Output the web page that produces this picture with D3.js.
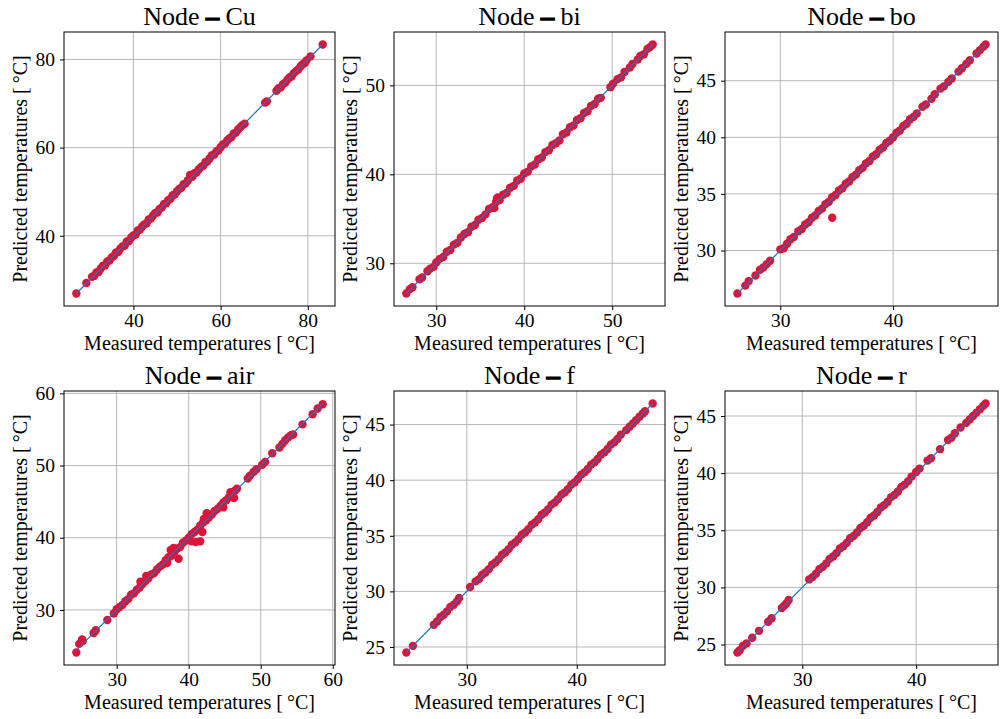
<!DOCTYPE html>
<html>
<head>
<meta charset="utf-8">
<script src="https://cdn.jsdelivr.net/npm/d3@7"></script>
<style>
    body { margin: 0; background: #fff; }
    svg { font-family: "Liberation Serif", "Times New Roman", serif; }
    .grid line { stroke: #b0b0b0; stroke-width: 0.9; }
    .tick text { font-size: 19.5px; fill: #000; font-family: "Liberation Serif", serif; }
    .frame { fill: none; stroke: #000; stroke-width: 1; }
    .dot { fill: #dc143c; }
    .fit { stroke: #1f77b4; stroke-width: 1.2; fill: none; }
</style>
</head>
<body>
<svg id="fig" width="1001" height="719"></svg>
<script>
// measured / predicted pairs
const cuPoints = [[26.9,26.9],[29.2,29.3],[30.5,30.7],[31.0,30.9],[31.5,31.7],[32.0,31.8],[32.5,32.6],[33.0,33.2],[33.5,33.3],[34.0,34.2],[34.5,34.4],[35.0,35.1],[35.5,35.4],[36.0,36.2],[36.5,36.3],[37.0,37.1],[37.5,37.6],[38.0,37.8],[38.5,38.7],[39.0,38.8],[39.5,39.6],[40.0,40.1],[40.5,40.3],[41.0,41.2],[41.5,41.4],[42.0,42.1],[42.5,42.6],[43.0,42.8],[43.5,43.7],[44.0,43.9],[44.5,44.6],[45.0,45.2],[45.5,45.3],[46.0,46.1],[46.5,46.4],[47.0,47.2],[47.5,47.4],[48.0,48.1],[48.5,48.4],[49.0,49.2],[49.5,49.4],[50.0,50.1],[50.5,50.6],[51.0,50.9],[51.5,51.7],[52.0,51.9],[52.5,52.6],[53.0,53.8],[53.5,53.4],[54.0,54.2],[54.5,54.4],[55.0,55.1],[55.5,55.6],[56.0,55.9],[56.5,56.7],[57.0,56.9],[57.5,57.6],[58.0,58.3],[58.5,58.4],[59.0,59.1],[59.5,59.4],[60.0,60.1],[60.5,60.7],[61.0,60.9],[61.5,61.6],[62.0,62.1],[62.5,62.4],[63.0,63.2],[63.5,63.4],[64.0,64.1],[64.5,64.6],[65.0,65.1],[65.5,65.4],[70.2,70.2],[70.6,70.5],[72.8,72.9],[73.3,73.5],[73.8,73.7],[74.3,74.4],[74.8,74.7],[75.3,75.4],[75.8,75.9],[76.3,76.2],[76.8,76.9],[77.3,77.4],[77.8,77.7],[78.3,78.4],[78.8,78.9],[79.3,79.2],[79.7,79.8],[80.6,80.7],[83.4,83.4]];

const biPoints = [[26.6,26.6],[27.0,27.1],[27.3,27.3],[28.1,28.2],[28.4,28.4],[29.0,29.1],[29.3,29.4],[29.7,29.6],[30.0,30.1],[30.4,30.5],[30.8,30.7],[31.2,31.3],[31.6,31.5],[32.0,32.1],[32.4,32.3],[32.8,32.9],[33.2,33.3],[33.6,33.5],[34.0,34.1],[34.4,34.3],[34.8,34.9],[35.2,35.1],[35.6,35.5],[36.0,36.1],[36.4,36.3],[36.6,36.2],[36.8,36.9],[36.9,37.3],[37.0,37.4],[37.2,37.1],[37.6,37.7],[38.0,37.9],[38.4,38.5],[38.8,38.7],[39.2,39.3],[39.6,39.5],[40.0,40.1],[40.4,40.3],[40.8,40.9],[41.2,41.1],[41.6,41.7],[42.0,41.9],[42.4,42.5],[42.8,42.7],[43.2,43.3],[43.6,43.5],[44.0,43.8],[44.4,44.5],[44.8,44.7],[45.2,45.3],[45.6,45.5],[46.0,46.1],[46.4,46.3],[46.8,46.9],[47.2,47.1],[47.6,47.7],[48.0,47.9],[48.4,48.5],[48.7,48.6],[49.8,49.8],[50.1,50.2],[50.6,50.7],[51.0,50.9],[51.4,51.5],[52.0,52.0],[52.3,52.4],[52.9,52.9],[53.2,53.3],[53.6,53.5],[54.0,54.1],[54.3,54.3],[54.6,54.6]];

const boPoints = [[26.2,26.2],[26.9,26.9],[27.2,27.3],[27.8,27.8],[28.2,28.3],[28.5,28.5],[28.8,28.8],[29.1,29.1],[30.0,30.1],[30.3,30.2],[30.6,30.6],[30.9,31.0],[31.2,31.2],[31.6,31.7],[31.9,31.9],[32.2,32.3],[32.5,32.5],[32.8,32.9],[33.1,33.1],[33.4,33.5],[33.7,33.7],[34.0,34.1],[34.3,34.3],[34.6,32.9],[34.6,34.7],[34.9,34.9],[35.2,35.3],[35.5,35.5],[35.8,35.9],[36.1,36.1],[36.4,36.5],[36.7,36.7],[37.0,37.1],[37.3,37.3],[37.6,37.7],[37.9,37.9],[38.2,38.3],[38.5,38.5],[38.8,38.9],[39.1,39.1],[39.4,39.5],[39.7,39.7],[40.0,40.0],[40.3,40.4],[40.6,40.6],[40.9,41.0],[41.2,41.2],[41.5,41.6],[41.8,41.8],[42.1,42.1],[42.6,42.7],[42.9,42.9],[43.4,43.4],[43.7,43.8],[44.2,44.3],[44.5,44.5],[44.9,44.9],[45.2,45.2],[45.8,45.8],[46.1,46.1],[46.5,46.5],[46.8,46.8],[47.4,47.4],[47.7,47.7],[48.0,48.0],[48.2,48.2]];

const airPoints = [[24.4,24.1],[24.8,25.3],[25.2,25.9],[25.3,25.7],[26.8,26.8],[27.1,27.2],[28.7,28.6],[29.6,29.5],[30.0,30.1],[30.4,30.4],[30.8,30.7],[31.2,31.2],[31.6,31.5],[32.0,32.1],[32.4,32.3],[32.8,32.8],[33.2,33.1],[33.3,33.9],[33.6,33.6],[34.0,34.0],[34.1,34.7],[34.4,34.4],[34.8,34.9],[35.2,35.1],[35.6,35.6],[36.0,36.0],[36.4,36.3],[36.8,36.9],[37.0,36.5],[37.2,37.3],[37.5,38.3],[37.6,37.5],[37.9,38.6],[38.0,38.0],[38.4,38.5],[38.6,37.1],[38.8,38.7],[39.2,39.3],[39.6,39.6],[40.0,40.0],[40.4,39.5],[40.4,40.5],[40.8,40.8],[41.0,39.4],[41.2,41.1],[41.6,39.5],[41.6,41.7],[41.9,40.8],[42.0,42.1],[42.1,42.6],[42.4,42.4],[42.5,43.4],[42.8,42.8],[43.2,43.2],[43.6,43.7],[44.0,44.0],[44.4,44.4],[44.8,44.2],[44.8,44.9],[45.2,45.2],[45.6,45.6],[45.8,46.3],[46.0,46.0],[46.3,45.5],[46.4,46.5],[46.7,46.8],[48.2,48.2],[48.5,48.6],[49.0,49.1],[49.4,49.5],[50.2,50.1],[50.6,50.5],[51.6,51.7],[52.6,52.5],[53.0,53.0],[53.4,53.5],[53.8,53.9],[54.2,54.2],[54.5,54.3],[55.8,55.7],[57.2,57.1],[57.9,57.9],[58.6,58.5]];

const fPoints = [[24.5,24.5],[25.1,25.1],[27.0,27.0],[27.3,27.3],[27.6,27.7],[27.9,27.9],[28.2,28.2],[28.5,28.6],[28.8,28.8],[29.1,29.1],[29.3,29.4],[30.3,30.4],[30.8,30.9],[31.1,31.1],[31.4,31.5],[31.7,31.7],[32.0,32.0],[32.3,32.4],[32.6,32.6],[32.9,32.9],[33.2,33.3],[33.5,33.5],[33.8,33.8],[34.1,34.2],[34.4,34.4],[34.7,34.7],[35.0,35.1],[35.3,35.3],[35.6,35.6],[35.9,36.0],[36.2,36.2],[36.5,36.5],[36.8,36.9],[37.1,37.1],[37.4,37.4],[37.7,37.8],[38.0,38.0],[38.3,38.3],[38.6,38.7],[38.9,38.9],[39.2,39.2],[39.5,39.6],[39.8,39.8],[40.1,40.1],[40.4,40.5],[40.7,40.7],[41.0,41.0],[41.3,41.4],[41.6,41.6],[41.9,41.9],[42.2,42.3],[42.5,42.5],[42.8,42.8],[43.1,43.2],[43.4,43.4],[43.7,43.7],[44.0,44.1],[44.5,44.5],[44.8,44.8],[45.1,45.1],[45.4,45.4],[45.7,45.7],[46.0,46.0],[46.2,46.2],[46.9,46.9]];

const rPoints = [[24.3,24.3],[24.5,24.5],[24.8,24.9],[25.1,25.1],[25.6,25.6],[26.2,26.2],[27.0,27.0],[27.3,27.3],[28.2,28.2],[28.4,28.4],[28.6,28.6],[28.8,28.9],[30.6,30.7],[30.9,30.9],[31.2,31.2],[31.5,31.6],[31.8,31.8],[32.1,32.1],[32.4,32.5],[32.7,32.7],[33.0,33.0],[33.3,33.4],[33.6,33.6],[33.9,33.9],[34.2,34.3],[34.5,34.5],[34.8,34.8],[35.1,35.2],[35.4,35.4],[35.7,35.7],[36.0,36.1],[36.3,36.3],[36.6,36.6],[36.9,37.0],[37.2,37.2],[37.5,37.5],[37.8,37.9],[38.1,38.1],[38.4,38.4],[38.7,38.8],[39.0,39.0],[39.3,39.3],[39.6,39.7],[40.0,40.1],[40.3,40.4],[41.0,41.1],[41.3,41.3],[42.1,42.1],[42.8,42.9],[43.1,43.1],[43.4,43.5],[43.9,44.0],[44.4,44.4],[44.7,44.7],[45.0,45.0],[45.3,45.3],[45.6,45.6],[45.9,45.9],[46.1,46.1]];

const nodeNames = ["Cu", "bi", "bo", "air", "f", "r"];
const nodePoints = [cuPoints, biPoints, boPoints, airPoints, fPoints, rPoints];
const xTicks = [[40, 60, 80], [30, 40, 50], [30, 40], [30, 40, 50, 60], [30, 40], [30, 40]];
const yTicks = [[40, 60, 80], [30, 40, 50], [30, 35, 40, 45], [30, 40, 50, 60], [25, 30, 35, 40, 45], [25, 30, 35, 40, 45]];

/** One scatter panel: measured vs predicted with the y = x line */
class Panel {
    constructor(svg, box, name, points, xt, yt) {
        this.g = svg.append("g").attr("transform", `translate(${box.x},${box.y})`);
        this.w = box.w;
        this.h = box.h;
        this.name = name;
        this.points = points;
        this.xt = xt;
        this.yt = yt;
    }

    padded(ext) {
        let pad = (ext[1] - ext[0]) * 0.05;
        return [ext[0] - pad, ext[1] + pad];
    }

    draw() {
        let xExt = d3.extent(this.points, d => d[0]);
        let yExt = d3.extent(this.points.map(d => d[1]).concat(xExt));
        let x = d3.scaleLinear().domain(this.padded(xExt)).range([0, this.w]);
        let y = d3.scaleLinear().domain(this.padded(yExt)).range([this.h, 0]);

        //gridlines first so they sit under the points
        let grid = this.g.append("g").attr("class", "grid");
        grid.selectAll(".gx").data(this.xt).enter().append("line")
            .attr("x1", d => x(d)).attr("x2", d => x(d))
            .attr("y1", 0).attr("y2", this.h);
        grid.selectAll(".gy").data(this.yt).enter().append("line")
            .attr("y1", d => y(d)).attr("y2", d => y(d))
            .attr("x1", 0).attr("x2", this.w);

        this.g.append("g").selectAll("circle")
            .data(this.points)
            .enter()
            .append("circle")
            .attr("class", "dot")
            .attr("r", 4.2)
            .attr("cx", d => x(d[0]))
            .attr("cy", d => y(d[1]));

        this.g.append("line")
            .attr("class", "fit")
            .attr("x1", x(xExt[0])).attr("y1", y(xExt[0]))
            .attr("x2", x(xExt[1])).attr("y2", y(xExt[1]));

        this.g.append("rect").attr("class", "frame")
            .attr("width", this.w).attr("height", this.h);

        let xAxis = this.g.append("g")
            .attr("transform", `translate(0,${this.h})`)
            .call(d3.axisBottom(x).tickValues(this.xt).tickSize(4).tickSizeOuter(0).tickPadding(3));
        let yAxis = this.g.append("g")
            .call(d3.axisLeft(y).tickValues(this.yt).tickSize(4).tickSizeOuter(0).tickPadding(5));
        [xAxis, yAxis].forEach(a => {
            a.select(".domain").remove();
            a.attr("font-family", null).attr("font-size", null);
            a.selectAll(".tick line").attr("stroke", "#000");
        });

        this.g.append("text")
            .attr("x", this.w / 2).attr("y", this.h + 44)
            .attr("text-anchor", "middle")
            .attr("font-size", 20)
            .text("Measured temperatures [\u2009\u00b0C]");

        this.g.append("text")
            .attr("transform", `translate(-37,${this.h / 2}) rotate(-90)`)
            .attr("text-anchor", "middle")
            .attr("font-size", 20)
            .text("Predicted temperatures [\u2009\u00b0C]");

        let title = this.g.append("text")
            .attr("x", this.w / 2).attr("y", -7)
            .attr("text-anchor", "middle")
            .attr("font-size", 26);
        title.append("tspan").text("Node ");
        title.append("tspan").attr("font-weight", "bold")
            .attr("stroke", "#000").attr("stroke-width", 1.6).text("\u2013");
        title.append("tspan").text(" " + this.name);
    }
}

let svg = d3.select("#fig");
let cols = [{x: 64, w: 271}, {x: 394, w: 271}, {x: 725, w: 273}];
let rows = [{y: 32, h: 274}, {y: 391, h: 274}];

nodeNames.forEach(function (name, i) {
    let c = cols[i % 3], r = rows[Math.floor(i / 3)];
    let p = new Panel(svg, {x: c.x, y: r.y, w: c.w, h: r.h}, name, nodePoints[i], xTicks[i], yTicks[i]);
    p.draw();
});
</script>
</body>
</html>
